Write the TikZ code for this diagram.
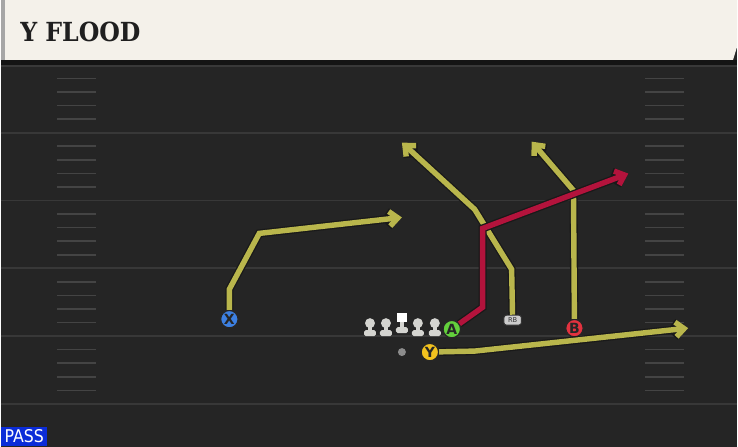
\documentclass[tikz,border=0pt]{standalone}
\usepackage{fontspec}
\setmainfont{DejaVu Sans}
\newfontfamily\titlefont{DejaVu Serif Condensed}
\newfontfamily\labelfont{DejaVu Sans Condensed}
\definecolor{field}{HTML}{252525}
\definecolor{yard}{HTML}{383838}
\definecolor{hash}{HTML}{444444}
\definecolor{cream}{HTML}{F4F1EA}
\definecolor{route}{HTML}{B9B64C}
\definecolor{block}{HTML}{B3133C}
\definecolor{pass}{HTML}{0B2CD8}
\definecolor{Xc}{HTML}{3D80E2}
\definecolor{Ac}{HTML}{63D03C}
\definecolor{Bc}{HTML}{E2323F}
\definecolor{Yc}{HTML}{F2C21E}
\definecolor{lman}{HTML}{D4D4D0}
\usepackage{tikz}
\usetikzlibrary{arrows.meta}
\usetikzlibrary{positioning}
\tikzstyle{base}=[x=0.02cm, y=-0.02cm]
\tikzstyle{player}=[circle, draw=black!85, line width=0.7pt, minimum size=0.35cm, inner sep=0pt,
  font=\bfseries\fontsize{8}{8}\selectfont, text=black!85]
\tikzstyle{routeline}=[line width=3.1pt, -{Straight Barb[length=4.8pt,width=8.4pt]}]
\tikzstyle{hashmark}=[hash, line width=0.9pt]
\newcommand{\runroute}[2]{%
  \draw[routeline, black!90, line width=4.6pt] #2;
  \draw[routeline, #1] #2;}
\tikzset{lineman/.pic={
    \fill[lman] (0,-13) circle (5);
    \fill[lman] (-2.3,-10) rectangle (2.3,-4);
    \fill[lman, rounded corners=1] (-6,-6) rectangle (6,0);},
  snapper/.pic={
    \fill[white] (-5,-20) rectangle (5,-11);
    \fill[lman] (-2.3,-11) rectangle (2.3,-4);
    \fill[lman, rounded corners=1] (-6,-6) rectangle (6,0);}}

\begin{document}
\begin{tikzpicture}[base]
    % field
    \fill[field] (0,0) rectangle (738,448);
    \foreach \yl in {133,201,269,337,405} {
        \draw[yard, line width=1.1pt] (0,\yl) -- (738,\yl);
        \foreach \k in {1,...,4} {
            \draw[hashmark] (56,\yl-13.6*\k) -- (95,\yl-13.6*\k);
            \draw[hashmark] (646,\yl-13.6*\k) -- (685,\yl-13.6*\k);
        }
    }
    % header
    \fill[black!92] (0,60) rectangle (738,66);
    \draw[yard, line width=1.1pt] (0,66) -- (738,66);
    \fill[cream] (0,0) -- (738,0) -- (738,47) -- (734,60) -- (0,60) -- cycle;
    \fill[black!35] (0,0) rectangle (4,60);
    \node[anchor=base west, inner sep=0pt, text=black!88,
          font=\titlefont\bfseries\fontsize{15}{15}\selectfont] (title) at (19,42) {Y FLOOD};
    \node[anchor=south west, fill=pass, text=white, inner sep=0pt, minimum width=0.92cm,
          minimum height=0.4cm, font=\labelfont\fontsize{10}{10}\selectfont] (mode) at (0,448) {PASS};

    % line
    \foreach \lx in {370,386,418,435} \pic at (\lx,337) {lineman};
    \pic at (402,334) {snapper};
    \fill[black!45] (402,353) circle (4);

    % players
    \node[player, fill=Xc] (X) at (229,320) {X};
    \node[player, fill=Ac] (A) at (452,330) {A};
    \node[player, fill=Bc] (B) at (575,329) {B};
    \node[player, fill=Yc] (Y) at (430,353) {Y};
    \node[draw=black!80, fill=black!20, rounded corners=1.5pt, line width=0.5pt, inner sep=0pt,
          minimum width=0.35cm, minimum height=0.2cm, text=black!80,
          font=\fontsize{3.8}{4}\selectfont] (RB) at (513,321) {RB};

    % routes
    \coordinate (x1) at (229,290);
    \coordinate (x2) at (259,234);
    \coordinate (x3) at (402,218);
    \coordinate (r1) at (512,270);
    \coordinate (r2) at (475,210);
    \coordinate (r3) at (402,143);
    \coordinate (b1) at (574,191);
    \coordinate (b2) at (532,142);
    \coordinate (y1) at (475,352);
    \coordinate (y2) at (689,329);
    \coordinate (a1) at (483,308);
    \coordinate (a2) at (483,229);
    \coordinate (a3) at (629,174);
    \runroute{route}{(X) -- (x1) -- (x2) -- (x3)}
    \runroute{route}{(RB) -- (r1) -- (r2) -- (r3)}
    \runroute{route}{(B) -- (b1) -- (b2)}
    \runroute{route}{(Y) -- (y1) -- (y2)}
    \runroute{block}{(A) -- (a1) -- (a2) -- (a3)}
\end{tikzpicture}
\end{document}
